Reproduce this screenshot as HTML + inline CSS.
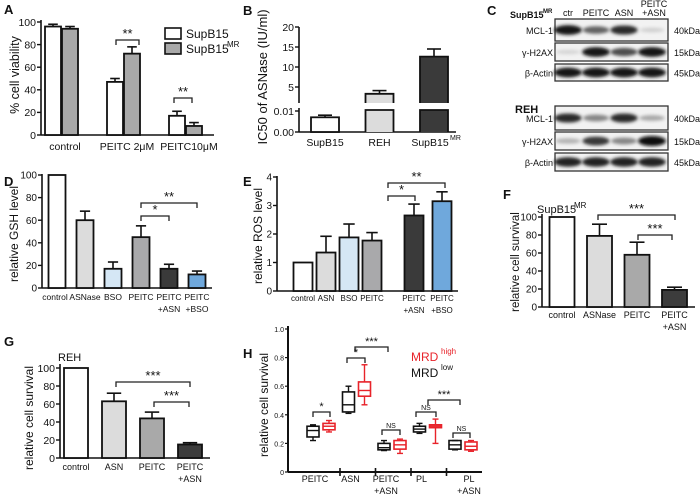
<!DOCTYPE html>
<html><head><meta charset="utf-8"><style>
html,body{margin:0;padding:0;background:#fff;}
svg{display:block;font-family:"Liberation Sans",Arial,sans-serif;}
</style></head><body>
<svg id="fig" width="700" height="502" viewBox="0 0 700 502" xmlns="http://www.w3.org/2000/svg">
<defs><filter id="blur" x="-20%" y="-50%" width="140%" height="200%"><feGaussianBlur stdDeviation="1.6"/></filter></defs>
</svg>
<script>
// ---- Panel A data ----
const aCategories = ['control', 'PEITC 2μM', 'PEITC10μM'];
const aSupB15 = [96, 47, 17];
const aSupB15Err = [98, 50, 21];
const aSupB15MR = [94, 72, 8];
const aSupB15MRErr = [96, 78, 11];
const aTicks = [0, 20, 40, 60, 80, 100];
// ---- Panel B data ----
const bCategories = ['SupB15', 'REH', 'SupB15'];
const bValues = [0.007, 3.3, 12.6];
const bErr = [0.008, 4.1, 14.5];
const bUpperTicks = [5, 10, 15, 20];
const bLowerTicks = [0, 0.01];
const bLowerTickLabels = ['0.00', '0.01'];
// ---- Panel D data ----
const dCategories = ['control', 'ASNase', 'BSO', 'PEITC', 'PEITC|+ASN', 'PEITC|+BSO'];
const dValues = [100, 60, 17, 45, 17, 12];
const dErr = [100, 68, 23, 55, 21, 15];
const dTicks = [0, 20, 40, 60, 80, 100];
// ---- Panel E data ----
const eCategories = ['control', 'ASN', 'BSO', 'PEITC', 'PEITC|+ASN', 'PEITC|+BSO'];
const eValues = [1, 1.35, 1.88, 1.77, 2.65, 3.15];
const eErr = [1, 1.92, 2.35, 2.05, 3.05, 3.48];
const eTicks = [0, 1, 2, 3, 4];
// ---- Panel F data ----
const fCategories = ['control', 'ASNase', 'PEITC', 'PEITC|+ASN'];
const fValues = [100, 79, 58, 19];
const fErr = [100, 92, 72, 22];
const fTicks = [0, 20, 40, 60, 80, 100];
// ---- Panel G data ----
const gCategories = ['control', 'ASN', 'PEITC', 'PEITC|+ASN'];
const gValues = [100, 63, 44, 15];
const gErr = [100, 72, 51, 17];
const gTicks = [0, 20, 40, 60, 80, 100];
// ---- Panel H data (min, q1, median, q3, max) ----
const hCategories = ['PEITC', 'ASN', 'PEITC|+ASN', 'PL', 'PL|+ASN'];
const hLowMin = [0.22, 0.41, 0.15, 0.27, 0.155];
const hLowQ1 = [0.245, 0.42, 0.155, 0.28, 0.16];
const hLowMed = [0.29, 0.47, 0.17, 0.30, 0.19];
const hLowQ3 = [0.32, 0.56, 0.20, 0.32, 0.22];
const hLowMax = [0.33, 0.60, 0.22, 0.34, 0.22];
const hHighMin = [0.28, 0.47, 0.13, 0.20, 0.145];
const hHighQ1 = [0.295, 0.53, 0.16, 0.31, 0.155];
const hHighMed = [0.32, 0.57, 0.19, 0.32, 0.18];
const hHighQ3 = [0.34, 0.63, 0.22, 0.33, 0.21];
const hHighMax = [0.36, 0.75, 0.23, 0.37, 0.22];
const hTicks = [0, 0.2, 0.4, 0.6, 0.8, 1.0];
// ---- Western band intensities (0..1) ----
const cLanes = ['ctr', 'PEITC', 'ASN', 'PEITC|+ASN'];
const cMrMcl1 = [0.95, 0.6, 0.85, 0.12];
const cMrH2ax = [0.1, 0.95, 0.7, 0.95];
const cMrActin = [0.95, 0.95, 0.95, 0.95];
const cRehMcl1 = [0.85, 0.45, 0.85, 0.3];
const cRehH2ax = [0.25, 0.8, 0.45, 1.0];
const cRehActin = [0.9, 0.9, 0.9, 0.9];

const svg = document.getElementById('fig');
const NS = 'http://www.w3.org/2000/svg';
function mk(tag, attrs, name) {
  const el = document.createElementNS(NS, tag);
  for (const k in attrs) el.setAttribute(k, attrs[k]);
  
  
  svg.appendChild(el);
  return el;
}
function txt(x, y, s, size, name, anchor, extra) {
  const a = Object.assign({x: x, y: y, 'font-size': size, 'text-anchor': anchor || 'middle', fill: '#111'}, extra || {});
  const t = mk('text', a, name);
  t.textContent = s;
  return t;
}
function multi(x, y, s, size, name, lh) {
  s.split('|').forEach((p, i) => txt(x, y + i * lh, p, size, name));
}
function line(x1, y1, x2, y2, name, w, c) {
  return mk('line', {x1: x1, y1: y1, x2: x2, y2: y2, stroke: c || '#111', 'stroke-width': w || 1.5}, name);
}
function bracket(x1, x2, y, label, size, name, c) {
  mk('path', {d: `M${x1},${y + 5}V${y}H${x2}V${y + 5}`, fill: 'none', stroke: c || '#222', 'stroke-width': 1.3}, name);
  txt((x1 + x2) / 2, y - 2, label, size, name + '-label', 'middle', c ? {fill: c} : {});
}
function yAxis(ax, y0, y1, ticks, ys, labels, size, name) {
  line(ax, y0, ax, y1, name, 1.6);
  ticks.forEach((t, i) => {
    line(ax - 4, ys(t), ax, ys(t), name + '-tick', 1.4);
    txt(ax - 5, ys(t) + size * 0.36, labels ? labels[i] : String(t), size, name + '-label', 'end');
  });
}
function bars(vals, errs, xs, w, ys, colors, name) {
  vals.forEach((v, i) => {
    const x = xs(i) - w / 2, top = ys(v), base = ys(0);
    if (errs[i] > v) {
      line(xs(i), ys(errs[i]), xs(i), top, name + '-error', 1.6);
      line(xs(i) - w * 0.3, ys(errs[i]), xs(i) + w * 0.3, ys(errs[i]), name + '-error-cap', 1.6);
    }
    mk('rect', {x: x, y: top, width: w, height: base - top, fill: colors[i], stroke: '#111', 'stroke-width': 1.8}, name);
  });
}

// ===== Panel A =====
txt(4, 14, 'A', 13, 'panel-a-letter', 'start', {'font-weight': 'bold'});
const aY = v => 135 - v * 1.13;
const aX = i => 61 + i * 62;
yAxis(41, 135, 20, aTicks, aY, null, 10.5, 'a-y-axis');
line(41, 135, 214, 135, 'a-x-axis', 1.6);
bars(aSupB15, aSupB15Err, i => aX(i) - 8, 16, aY, ['#fff', '#fff', '#fff'], 'a-bar-supb15');
bars(aSupB15MR, aSupB15MRErr, i => aX(i) + 9, 16, aY, ['#a9a9a9', '#a9a9a9', '#a9a9a9'], 'a-bar-supb15mr');
aCategories.forEach((c, i) => txt(aX(i) + 4, 150, c, 10.5, 'a-x-label'));
txt(0, 0, '% cell viability', 12.5, 'a-y-axis-title', 'middle', {transform: 'translate(19,75) rotate(-90)'});
mk('rect', {x: 165, y: 28, width: 16, height: 11, fill: '#fff', stroke: '#111', 'stroke-width': 1.6}, 'a-legend-swatch-supb15');
txt(186, 38, 'SupB15', 12, 'a-legend-label', 'start');
mk('rect', {x: 165, y: 43, width: 16, height: 11, fill: '#a9a9a9', stroke: '#111', 'stroke-width': 1.6}, 'a-legend-swatch-mr');
txt(186, 53, 'SupB15', 12, 'a-legend-label', 'start');
txt(227, 47, 'MR', 8, 'a-legend-sup', 'start');
bracket(116, 139, 40, '**', 13, 'a-sig-bracket');
bracket(174, 192, 98, '**', 13, 'a-sig-bracket');

// ===== Panel B =====
txt(243, 15, 'B', 13, 'panel-b-letter', 'start', {'font-weight': 'bold'});
const bYU = v => 107 - v * 4;
const bYL = v => 132 - v * 2100;
const bX = i => 325 + i * 54.5;
line(299, 27, 299, 103, 'b-y-axis-upper', 1.6);
bUpperTicks.forEach(t => { line(295, bYU(t), 299, bYU(t), 'b-tick', 1.4); txt(294, bYU(t) + 4, String(t), 10.5, 'b-tick-label', 'end'); });
line(299, 108, 299, 132, 'b-y-axis-lower', 1.6);
bLowerTicks.forEach((t, i) => { line(295, bYL(t), 299, bYL(t), 'b-tick', 1.4); txt(294, bYL(t) + 4, bLowerTickLabels[i], 10.5, 'b-tick-label', 'end'); });
line(299, 132, 456, 132, 'b-x-axis', 1.6);
const bCol = ['#fff', '#dcdcdc', '#3a3a3a'];
bValues.forEach((v, i) => {
  const x = bX(i) - 14, w = 28;
  if (v <= 0.012) {
    line(bX(i), bYL(bErr[i]), bX(i), bYL(v), 'b-error', 1.6);
    line(bX(i) - 7, bYL(bErr[i]), bX(i) + 7, bYL(bErr[i]), 'b-error-cap', 1.6);
    mk('rect', {x: x, y: bYL(v), width: w, height: 132 - bYL(v), fill: bCol[i], stroke: '#111', 'stroke-width': 1.8}, 'b-bar');
  } else {
    line(bX(i), bYU(bErr[i]), bX(i), bYU(v), 'b-error', 1.6);
    line(bX(i) - 7, bYU(bErr[i]), bX(i) + 7, bYU(bErr[i]), 'b-error-cap', 1.6);
    mk('path', {d: `M${x},103V${bYU(v)}H${x + w}V103`, fill: bCol[i], stroke: '#111', 'stroke-width': 1.8}, 'b-bar-upper');
    mk('path', {d: `M${x},132V110H${x + w}V132`, fill: bCol[i], stroke: '#111', 'stroke-width': 1.8}, 'b-bar-lower');
  }
  txt(bX(i) - (i === 2 ? 4 : 0), 146, bCategories[i], 10.5, 'b-x-label');
});
txt(450, 140, 'MR', 7, 'b-x-label-sup', 'start');
txt(0, 0, 'IC50 of ASNase (IU/ml)', 13, 'b-y-axis-title', 'middle', {transform: 'translate(267,77) rotate(-90)'});

// ===== Panel C (westerns) =====
txt(487, 15, 'C', 13, 'panel-c-letter', 'start', {'font-weight': 'bold'});
const laneX = i => 568 + i * 28;
cLanes.forEach((l, i) => {
  if (l.includes('|')) multi(laneX(i) + 2, 7, l, 9, 'c-lane-label', 9);
  else txt(laneX(i), 16, l, 9, 'c-lane-label');
});
txt(510, 18, 'SupB15', 9, 'c-cell-label', 'start', {'font-weight': 'bold'});
txt(543, 13, 'MR', 6, 'c-cell-sup', 'start', {'font-weight': 'bold'});
txt(515, 113, 'REH', 11, 'c-cell-label-reh', 'start', {'font-weight': 'bold'});
function blot(y, h, vals, label, kda, name) {
  mk('rect', {x: 555, y: y, width: 113, height: h, fill: '#f2f2f2', stroke: '#333', 'stroke-width': 1.3}, name + '-box');
  vals.forEach((v, i) => {
    const c = Math.round(235 - v * 225);
    mk('ellipse', {cx: laneX(i), cy: y + h / 2, rx: 12 + v * 2, ry: 2 + v * 3, fill: `rgb(${c},${c},${c})`, filter: 'url(#blur)'}, name + '-band');
  });
  txt(553, y + h / 2 + 4, label, 9, name + '-label', 'end');
  txt(674, y + h / 2 + 4, kda, 9, name + '-kda', 'start');
}
blot(19, 22, cMrMcl1, 'MCL-1', '40kDa', 'c-mr-mcl1');
blot(43, 18, cMrH2ax, 'γ-H2AX', '15kDa', 'c-mr-h2ax');
blot(64, 17, cMrActin, 'β-Actin', '45kDa', 'c-mr-actin');
blot(106, 24, cRehMcl1, 'MCL-1', '40kDa', 'c-reh-mcl1');
blot(132, 18, cRehH2ax, 'γ-H2AX', '15kDa', 'c-reh-h2ax');
blot(153, 18, cRehActin, 'β-Actin', '45kDa', 'c-reh-actin');

// ===== Panel D =====
txt(4, 186, 'D', 13, 'panel-d-letter', 'start', {'font-weight': 'bold'});
const dY = v => 288 - v * 1.13;
const dX = i => 57 + i * 28;
yAxis(42, 288, 174, dTicks, dY, null, 10, 'd-y-axis');
line(42, 288, 212, 288, 'd-x-axis', 1.6);
bars(dValues, dErr, dX, 17, dY, ['#fff', '#dcdcdc', '#d5e7f5', '#a9a9ab', '#3a3a3a', '#6fa8dc'], 'd-bar');
dCategories.forEach((c, i) => multi(dX(i) + (i === 0 ? -2 : 0), 300, c, 8.5, 'd-x-label', 12));
bracket(141, 197, 203, '**', 13, 'd-sig-bracket');
bracket(141, 169, 216, '*', 13, 'd-sig-bracket');
txt(0, 0, 'relative GSH level', 12, 'd-y-axis-title', 'middle', {transform: 'translate(18,234) rotate(-90)'});

// ===== Panel E =====
txt(243, 186, 'E', 13, 'panel-e-letter', 'start', {'font-weight': 'bold'});
const eY = v => 291 - v * 28.5;
const eX = i => 303 + i * 23 + (i >= 4 ? 19 : 0) + (i >= 5 ? 5 : 0);
yAxis(277, 291, 176, eTicks, eY, null, 10, 'e-y-axis');
line(277, 291, 458, 291, 'e-x-axis', 1.6);
bars(eValues, eErr, eX, 19, eY, ['#fff', '#dcdcdc', '#d5e7f5', '#a9a9ab', '#3a3a3a', '#6fa8dc'], 'e-bar');
eCategories.forEach((c, i) => multi(eX(i), 301, c, 8, 'e-x-label', 12));
bracket(388, 445, 183, '**', 13, 'e-sig-bracket');
bracket(388, 415, 196, '*', 13, 'e-sig-bracket');
txt(0, 0, 'relative ROS level', 12, 'e-y-axis-title', 'middle', {transform: 'translate(262,236) rotate(-90)'});

// ===== Panel F =====
txt(503, 199, 'F', 13, 'panel-f-letter', 'start', {'font-weight': 'bold'});
const fY = v => 307 - v * 0.9;
const fX = i => 562 + i * 37.5;
yAxis(542, 307, 214, fTicks, fY, null, 10, 'f-y-axis');
line(542, 307, 695, 307, 'f-x-axis', 1.6);
bars(fValues, fErr, fX, 25, fY, ['#fff', '#dcdcdc', '#a9a9a9', '#3c3c3c'], 'f-bar');
fCategories.forEach((c, i) => multi(fX(i), 318, c, 9, 'f-x-label', 12));
txt(537, 213, 'SupB15', 11, 'f-title', 'start');
txt(574, 208, 'MR', 8, 'f-title-sup', 'start');
bracket(598, 675, 215, '***', 13, 'f-sig-bracket');
bracket(638, 672, 235, '***', 13, 'f-sig-bracket');
txt(0, 0, 'relative cell survival', 11.5, 'f-y-axis-title', 'middle', {transform: 'translate(519,262) rotate(-90)'});

// ===== Panel G =====
txt(4, 346, 'G', 13, 'panel-g-letter', 'start', {'font-weight': 'bold'});
const gY = v => 458 - v * 0.9;
const gX = i => 76 + i * 38;
yAxis(60, 458, 364, gTicks, gY, null, 10.5, 'g-y-axis');
line(60, 458, 210, 458, 'g-x-axis', 1.6);
bars(gValues, gErr, gX, 24, gY, ['#fff', '#dcdcdc', '#a9a9a9', '#3c3c3c'], 'g-bar');
gCategories.forEach((c, i) => multi(gX(i), 470, c, 9, 'g-x-label', 12));
txt(58, 361, 'REH', 11, 'g-title', 'start');
bracket(116, 190, 382, '***', 13, 'g-sig-bracket');
bracket(154, 189, 402, '***', 13, 'g-sig-bracket');
txt(0, 0, 'relative cell survival', 12, 'g-y-axis-title', 'middle', {transform: 'translate(33,418) rotate(-90)'});

// ===== Panel H =====
txt(243, 358, 'H', 13, 'panel-h-letter', 'start', {'font-weight': 'bold'});
const hY = v => 472 - v * 143;
const hX = i => 313 + i * 35.5;
line(288, 326, 288, 472, 'h-y-axis', 2);
hTicks.forEach(t => { line(285, hY(t), 288, hY(t), 'h-tick', 1.2); txt(284, hY(t) + 3, t === 0 ? '0' : t.toFixed(1), 7, 'h-tick-label', 'end'); });
line(288, 472, 482, 472, 'h-x-axis', 2);
[0, 1, 2, 3].forEach(i => line(hX(i) + 27, 468, hX(i) + 27, 476, 'h-x-tick', 1.6));
hCategories.forEach((c, i) => multi(hX(i) + (i === 4 ? 14 : 2), 482, c, 9, 'h-x-label', 12));
function box(cx, mn, q1, md, q3, mx, col, name) {
  line(cx, hY(mx), cx, hY(q3), name + '-whisker', 1.4, col);
  line(cx, hY(q1), cx, hY(mn), name + '-whisker', 1.4, col);
  line(cx - 3, hY(mx), cx + 3, hY(mx), name + '-cap', 1.4, col);
  line(cx - 3, hY(mn), cx + 3, hY(mn), name + '-cap', 1.4, col);
  mk('rect', {x: cx - 6, y: hY(q3), width: 12, height: Math.max(1, hY(q1) - hY(q3)), fill: 'none', stroke: col, 'stroke-width': 1.6}, name + '-box');
  line(cx - 6, hY(md), cx + 6, hY(md), name + '-median', 1.4, col);
}
hCategories.forEach((c, i) => {
  box(hX(i), hLowMin[i], hLowQ1[i], hLowMed[i], hLowQ3[i], hLowMax[i], '#111', 'h-mrd-low');
  box(hX(i) + 16, hHighMin[i], hHighQ1[i], hHighMed[i], hHighQ3[i], hHighMax[i], '#e8232a', 'h-mrd-high');
});
bracket(313, 330, 412, '*', 11, 'h-sig-bracket');
bracket(347, 365, 358, '*', 11, 'h-sig-bracket');
bracket(355, 388, 347, '***', 11, 'h-sig-bracket');
bracket(382, 400, 430, 'NS', 7, 'h-sig-bracket');
bracket(416, 436, 412, 'NS', 7, 'h-sig-bracket');
bracket(428, 460, 400, '***', 11, 'h-sig-bracket');
bracket(453, 470, 433, 'NS', 7, 'h-sig-bracket');
txt(411, 361, 'MRD', 12, 'h-legend-high', 'start', {fill: '#e8232a'});
txt(441, 354, 'high', 8, 'h-legend-high-sup', 'start', {fill: '#e8232a'});
txt(411, 377, 'MRD', 12, 'h-legend-low', 'start');
txt(441, 370, 'low', 8, 'h-legend-low-sup', 'start');
txt(0, 0, 'relative cell survival', 12, 'h-y-axis-title', 'middle', {transform: 'translate(268,405) rotate(-90)'});
</script>
</body></html>
